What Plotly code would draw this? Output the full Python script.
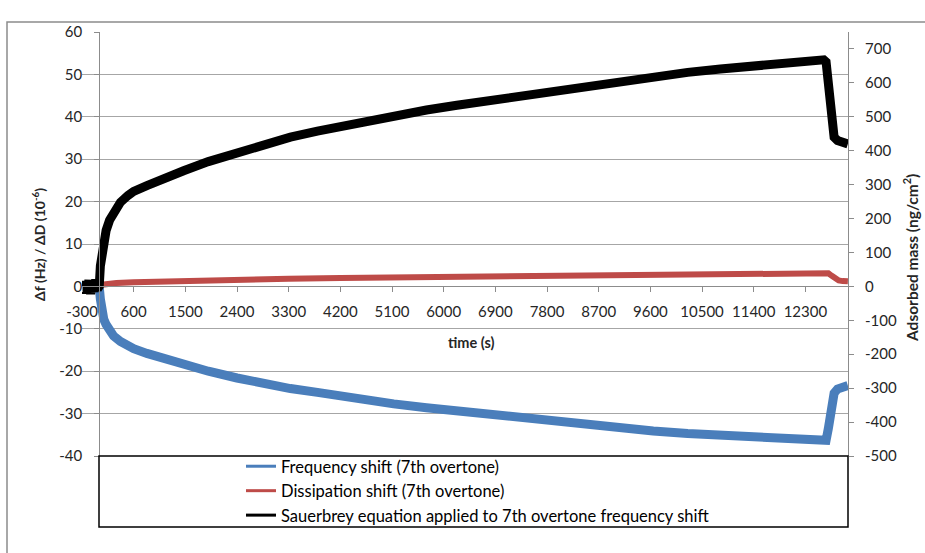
import plotly.graph_objects as go

# ---------------- data ----------------
time_freq = [-300, -200, -100, 0, 20, 50, 80, 120, 180, 250, 370, 500, 600, 830, 1100, 1470, 1900,
             2400, 2850, 3330, 3800, 4200, 4650, 5130, 5700, 6230, 6800, 7300, 7900, 8470, 9050,
             9650, 10250, 10820, 11400, 12000, 12400, 12620, 12660, 12700, 12730, 12760, 12800,
             12860, 12950, 13040]
freq_shift = [0.3, -0.2, 0.2, 0, -3, -6, -7.8, -9, -10.5, -11.7, -13, -14, -14.7, -15.8, -17, -18.4,
              -20, -21.6, -22.9, -24.1, -25, -25.9, -26.8, -27.7, -28.6, -29.4, -30.1, -30.8, -31.6,
              -32.5, -33.3, -34.1, -34.7, -35.2, -35.7, -36.1, -36.4, -36.6, -36.3, -33.5, -29.5,
              -27, -25.2, -24.2, -23.6, -23.4]

time_diss = [-300, 0, 50, 150, 300, 600, 1000, 1500, 2400, 3300, 4200, 5100, 6200, 7300, 8400,
             9600, 10800, 12000, 12620, 12700, 12760, 12820, 12880, 12950, 13040]
diss_shift = [0, 0, 0.4, 0.6, 0.8, 1.0, 1.15, 1.3, 1.6, 1.8, 2.0, 2.15, 2.3, 2.5, 2.7, 2.85, 2.95,
              3.15, 3.35, 3.1, 2.5, 1.8, 1.4, 1.25, 1.2]

time_mass = [-300, -270, -240, -210, -180, -150, -120, -90, -60, -30, 0, 20, 50, 80, 120, 180, 250,
             370, 500, 600, 830, 1100, 1470, 1900, 2400, 2850, 3330, 3800, 4200, 4650, 5130, 5700,
             6230, 6800, 7300, 7900, 8470, 9050, 9650, 10250, 10820, 11400, 12000, 12400, 12620,
             12660, 12700, 12730, 12760, 12800, 12860, 12950, 13040]
adsorbed_mass = [5, -20, 15, -12, 18, -22, 10, -15, 20, -8, 0, 60, 110, 140, 165, 195, 220, 248, 268,
                 280, 297, 318, 341, 368, 395, 418, 440, 458, 472, 488, 504, 520, 534, 548, 560, 576,
                 592, 606, 620, 631, 641, 651, 660, 665, 668, 662, 600, 510, 462, 440, 430, 424, 420]

x_ticks = list(range(-300, 12301, 900))
y_ticks = list(range(-40, 61, 10))
y2_ticks = list(range(-500, 701, 100))

names = ["Frequency shift (7th overtone)",
         "Dissipation shift (7th overtone)",
         "Sauerbrey equation applied to 7th overtone frequency shift"]
colors = ["#4A7EBB", "#BE4B48", "#000000"]

FONT = "Lato, 'Open Sans', sans-serif"
TXT = "#262626"

fig = go.Figure()
fig.add_trace(go.Scatter(x=time_freq, y=freq_shift, mode="lines", yaxis="y",
                         line=dict(color=colors[0], width=9), showlegend=False))
fig.add_trace(go.Scatter(x=time_diss, y=diss_shift, mode="lines", yaxis="y",
                         line=dict(color=colors[1], width=6), showlegend=False))
fig.add_trace(go.Scatter(x=time_mass, y=adsorbed_mass, mode="lines", yaxis="y2",
                         line=dict(color=colors[2], width=9), showlegend=False))
# legend entries (thin sample lines)
for i, (n, c) in enumerate(zip(names, colors)):
    fig.add_trace(go.Scatter(x=[None], y=[None], mode="lines", name=n,
                             legendgroup="g%d" % i, line=dict(color=c, width=3)))

W, H = 925, 553
L, R, T, B = 82, 77, 32, 97
pw, ph = W - L - R, H - T - B


def px(xp):
    return (xp - L) / pw


def py(yp):
    return (H - B - yp) / ph


fig.update_layout(
    width=W, height=H,
    margin=dict(l=L, r=R, t=T, b=B),
    paper_bgcolor="white", plot_bgcolor="white",
    font=dict(family=FONT, size=15, color=TXT),
    xaxis=dict(range=[-300, 13042], tickvals=x_ticks, ticktext=[str(v) for v in x_ticks],
               showgrid=False, zeroline=False, showline=True, linecolor="#8C8C8C", linewidth=1,
               ticks="outside", ticklen=5, tickcolor="#8C8C8C", anchor="free", position=0.4,
               ticklabelstandoff=7, tickfont=dict(size=15, color=TXT)),
    yaxis=dict(range=[-40, 60], tickvals=y_ticks, ticktext=[str(v) for v in y_ticks],
               showgrid=True, gridcolor="#A6A6A6", gridwidth=1,
               zeroline=False, showline=True, linecolor="#8C8C8C", linewidth=1,
               ticks="outside", ticklen=5, tickcolor="#8C8C8C", anchor="free", position=300 / 13342,
               ticklabelstandoff=9, tickfont=dict(size=15, color=TXT)),
    yaxis2=dict(range=[-500, 750], tickvals=y2_ticks, ticktext=[str(v) for v in y2_ticks],
                overlaying="y", side="right",
                showgrid=False, zeroline=False, showline=True, linecolor="#8C8C8C", linewidth=1,
                ticks="outside", ticklen=5, tickcolor="#8C8C8C", anchor="x",
                ticklabelstandoff=8, tickfont=dict(size=15, color=TXT)),
    legend=dict(x=px(241), y=py(449), xanchor="left", yanchor="top",
                bgcolor="rgba(0,0,0,0)", borderwidth=0, traceorder="grouped",
                tracegroupgap=0, font=dict(family=FONT, size=16.5, color="#000000"),
                itemwidth=30),
    shapes=[
        dict(type="rect", xref="paper", yref="paper", x0=px(99), x1=px(848), y0=py(527), y1=py(456),
             line=dict(color="#000000", width=1.5), layer="above"),
        dict(type="rect", xref="paper", yref="paper", x0=px(7), x1=px(940), y0=py(570), y1=py(22),
             line=dict(color="#8C8C8C", width=1.5), layer="below"),
    ],
    annotations=[
        dict(text="<b>Δf (Hz) / ΔD (10<sup>-6</sup>)</b>", xref="paper", yref="paper", x=px(38),
             y=py(245), textangle=-90, showarrow=False, font=dict(family=FONT, size=14, color=TXT),
             xanchor="center", yanchor="middle"),
        dict(text="<b>Adsorbed mass (ng/cm<sup>2</sup>)</b>", xref="paper", yref="paper", x=px(910),
             y=py(258), textangle=-90, showarrow=False, font=dict(family=FONT, size=15.5, color=TXT),
             xanchor="center", yanchor="middle"),
        dict(text="<b>time (s)</b>", xref="paper", yref="paper", x=px(471), y=py(342),
             showarrow=False, font=dict(family=FONT, size=14.5, color=TXT),
             xanchor="center", yanchor="middle"),
    ],
)

fig.write_html("out.html")
